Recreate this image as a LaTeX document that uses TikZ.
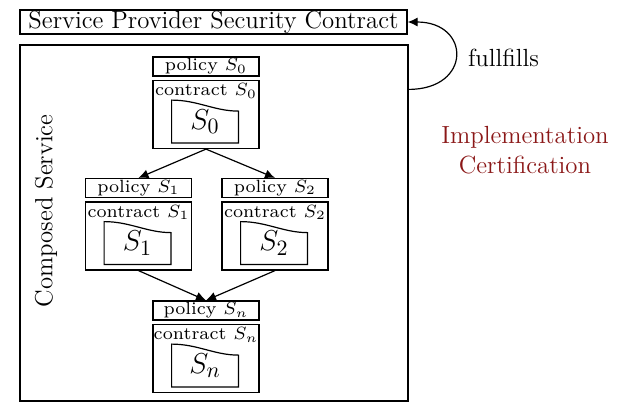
\documentclass[tikz,border=0pt]{standalone}
\usetikzlibrary{arrows.meta,calc}
\definecolor{certred}{RGB}{139,24,24}

% one service: policy box, contract box with its label and the document sheet
\newcommand\svcblock[4]{%
  \node[policybox] (p#1) at (#2,#3) {};
  \node[smalltext] (pt#1) at (p#1.center) {policy $S_{#4}$};
  \node[contractbox] (c#1) at ({#2},{#3+48}) {};
  \node[smalltext, anchor=north] (l#1) at ({#2},{#3+16.5}) {contract $S_{#4}$};
  \node[docarea] (d#1) at ({#2-1},{#3+55}) {$S_{#4}$};
  \draw[sheet] (d#1.south west) -- (d#1.north west)
    .. controls +(26,0) and +(-24,0) .. ($(d#1.north east)+(0,11)$)
    -- (d#1.south east) -- cycle;
}

\begin{document}
\begin{tikzpicture}[x=0.5pt,y=-0.5pt,
  big/.style={font=\fontsize{12.4}{15}\selectfont},
  box/.style={draw, line width=0.6pt, inner sep=0pt},
  policybox/.style={box, minimum width=53pt, minimum height=9.5pt},
  contractbox/.style={box, minimum width=53pt, minimum height=34pt},
  smalltext/.style={inner sep=0pt, scale=1.27, font=\fontsize{7}{8}\selectfont},
  docarea/.style={minimum width=33pt, minimum height=21pt, inner sep=0pt,
    font=\fontsize{15}{18}\selectfont},
  sheet/.style={line width=0.6pt},
  flow/.style={-{Latex[length=5pt,width=4.5pt]}, line width=0.6pt}]
\useasboundingbox (0,0) rectangle (621,402);

% provider contract and the composed service frame
\node[box, big, minimum width=193.5pt, minimum height=12pt] (title) at (213.5,22)
  {Service Provider Security Contract};
\node[box, minimum width=194pt, minimum height=178pt] (outer) at (214,223) {};
\node[big, rotate=90] (cs) at (46,211) {Composed Service};

% services
\svcblock{0}{206}{66.5}{0}
\svcblock{1}{138.5}{188}{1}
\svcblock{2}{275}{188}{2}
\svcblock{n}{206}{310.5}{n}

% composition flow
\draw[flow] (c0.south) -- (p1.north);
\draw[flow] (c0.south) -- (p2.north);
\draw[flow] (c1.south) -- (pn.north);
\draw[flow] (c2.south) -- (pn.north);

% fulfilment loop
\coordinate (loopstart) at ($(outer.north east)+(0,45)$);
\draw[flow] (loopstart) to[out=0, in=0, looseness=2.4] (title.east);
\node[big, anchor=west] (ff) at (461,58) {fullfills};

\node[big, align=center, text=certred] (cert) at (525,150)
  {Implementation\\Certification};
\end{tikzpicture}
\end{document}
